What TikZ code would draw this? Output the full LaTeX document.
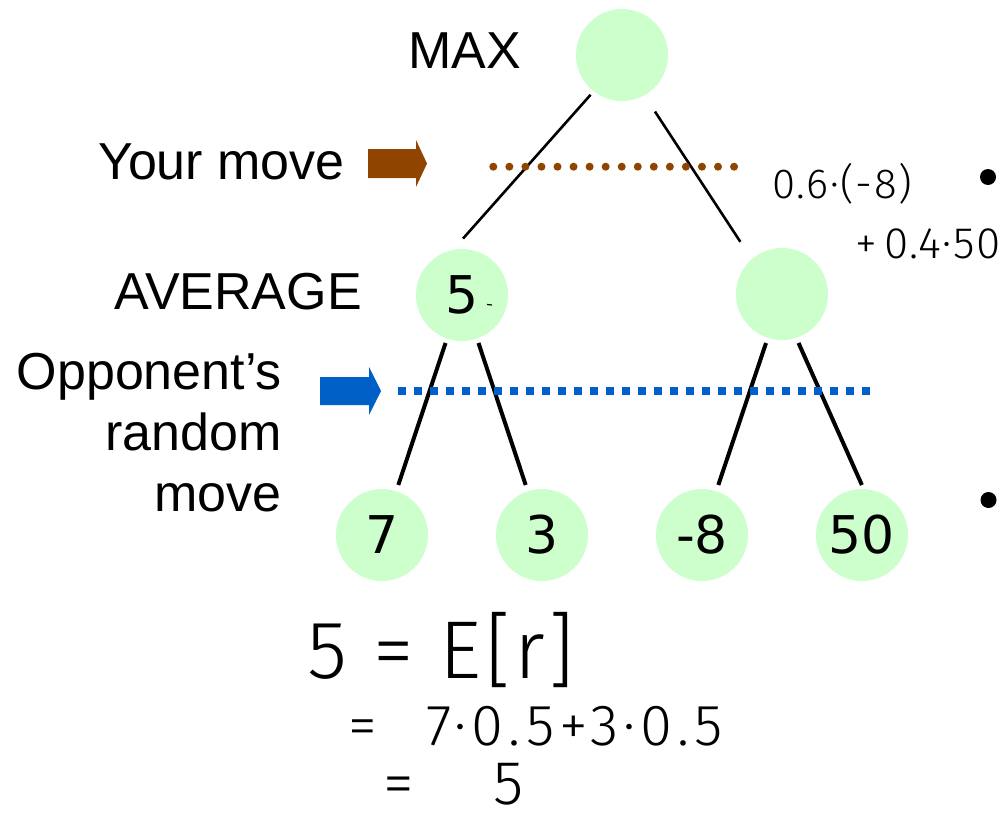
\documentclass[tikz,border=0pt]{standalone}
\usepackage{fontspec}
\setmainfont{Liberation Sans}
\newfontfamily\numfont{DejaVu Sans}
\newfontfamily\handfont{Fira Sans Light}[LetterSpace=4]
\definecolor{nodegreen}{RGB}{204,255,204}
\definecolor{mybrown}{RGB}{143,69,0}
\definecolor{myblue}{RGB}{0,96,200}
\begin{document}
\begin{tikzpicture}[x=1pt,y=-1pt,
  state/.style={circle,fill=nodegreen,minimum size=92pt,inner sep=0pt,font=\numfont\fontsize{52}{60}\selectfont},
  edgetop/.style={line width=2.6pt},
  edgebot/.style={line width=4pt},
  lbl/.style={inner sep=0pt,font=\fontsize{52}{61}\selectfont},
  hand/.style={inner sep=0pt,anchor=base west}]
\useasboundingbox (0,0) rectangle (1004,819);

% tree nodes
\node[state] (root) at (622,55) {};
\node[state] (avgL) at (462,295) {5};
\node[state] (avgR) at (782,294) {};
\node[state] (l1) at (382,535) {7};
\node[state] (l2) at (542,535) {3};
\node[state] (l3) at (702,535) {-8};
\node[state] (l4) at (862,535) {50};

% edges
\draw[edgetop, shorten <=4.5pt, shorten >=14.8pt] (root.232) -- (avgL.101);
\draw[edgetop, shorten <=19.3pt, shorten >=20.7pt] (root.299) -- (avgR.131);
\draw[edgebot, shorten <=4.5pt, shorten >=6.4pt] (avgL.251) -- (l1.72);
\draw[edgebot, shorten <=4.5pt, shorten >=6.4pt] (avgL.289) -- (l2.108);
\draw[edgebot, shorten <=5.4pt, shorten >=6.4pt] (avgR.252) -- (l3.72);
\draw[edgebot, shorten <=5.5pt, shorten >=4.2pt] (avgR.288) -- (l4.88);

% small pen mark
\draw[line width=1.2pt] (487,304.5) -- (492,305);

% labels
\node[lbl,anchor=center] (max) at (465,51) {MAX};
\node[lbl,anchor=east] (yourmove) at (345,162) {Your move};
\node[lbl,anchor=east] (average) at (362,292) {AVERAGE};
\node[lbl,anchor=north east,align=right] (opp) at (282,353) {Opponent’s\\random\\move};

% arrows
\fill[mybrown] (368,149) -- (416,149) -- (416,140) -- (427,163.5) -- (416,187) -- (416,178) -- (368,178) -- cycle;
\fill[myblue] (320,377) -- (369,377) -- (369,367) -- (381,391) -- (369,415) -- (369,405) -- (320,405) -- cycle;

% dotted lines
\foreach \i in {0,...,15} \fill[mybrown] (493.3+16.05*\i,166.7) circle (4);
\foreach \i in {0,...,29} \fill[myblue] (398+16*\i,387.3) rectangle ++(7.5,7.5);

% bullets
\fill (988,177) circle (8);
\fill (988.5,500) circle (8);

% handwriting
\node[hand,font=\handfont\fontsize{42}{50}\selectfont] (h1) at (772,198) {0.6·(-8)};
\node[hand,font=\handfont\fontsize{44}{50}\selectfont] (h2) at (855,258) {+\,0.4·50};
\node[hand,font=\handfont\fontsize{82}{90}\selectfont] (h3) at (307,678) {5 = E[r]};
\node[hand,font=\handfont\addfontfeature{LetterSpace=9}\fontsize{58}{60}\selectfont] (h4) at (348,745) {=\hspace{50pt}7·0.5+3·0.5};
\node[hand,font=\handfont\fontsize{62}{70}\selectfont] (h5) at (383,804) {=\hspace{80pt}5};
\end{tikzpicture}
\end{document}
